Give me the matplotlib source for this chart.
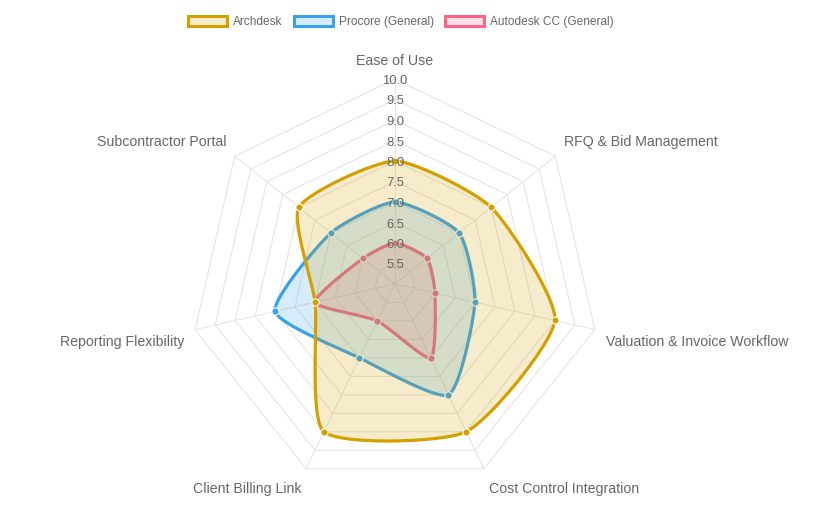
import numpy as np
import matplotlib
matplotlib.use('Agg')
import matplotlib.pyplot as plt
from matplotlib.patches import Patch

plt.rcParams['font.family'] = ['Liberation Sans', 'DejaVu Sans']

categories = ['Ease of Use', 'RFQ & Bid Management', 'Valuation & Invoice Workflow',
              'Cost Control Integration', 'Client Billing Link', 'Reporting Flexibility',
              'Subcontractor Portal']
archdesk = [8.0, 8.0, 9.0, 9.0, 9.0, 7.0, 8.0]
procore = [7.0, 7.0, 7.0, 8.0, 7.0, 8.0, 7.0]
autodesk = [6.0, 6.0, 6.0, 7.0, 6.0, 7.0, 6.0]
series_names = ['Archdesk', 'Procore (General)', 'Autodesk CC (General)']
ticks = [5.5, 6.0, 6.5, 7.0, 7.5, 8.0, 8.5, 9.0, 9.5, 10.0]

colors = ['#d4a000', '#36a2eb', '#ff6384']
fills = [(212/255, 160/255, 0, 0.2), (54/255, 162/255, 235/255, 0.2), (1, 99/255, 132/255, 0.2)]

rmin, rmax = 5.0, 10.0
W, H = 831, 511
cx, cy, px = 395, 284, 41.0   # centre in pixels, pixels per unit
tension = 0.2

n = len(categories)
angles = np.arange(n) * 2 * np.pi / n


def to_xy(vals):
    r = np.asarray(vals) - rmin
    return r * np.sin(angles), r * np.cos(angles)


def spline(xs, ys, t=tension, steps=30):
    pts = np.column_stack([xs, ys])
    m = len(pts)
    cp_prev, cp_next = [], []
    for i in range(m):
        p0, p1, p2 = pts[i - 1], pts[i], pts[(i + 1) % m]
        d01 = np.hypot(*(p1 - p0))
        d12 = np.hypot(*(p2 - p1))
        s01 = d01 / (d01 + d12)
        s12 = d12 / (d01 + d12)
        cp_prev.append(p1 - t * s01 * (p2 - p0))
        cp_next.append(p1 + t * s12 * (p2 - p0))
    out = []
    u = np.linspace(0, 1, steps, endpoint=False)[:, None]
    for i in range(m):
        a, b, c, d = pts[i], cp_next[i], cp_prev[(i + 1) % m], pts[(i + 1) % m]
        out.append((1 - u) ** 3 * a + 3 * (1 - u) ** 2 * u * b + 3 * (1 - u) * u ** 2 * c + u ** 3 * d)
    out = np.vstack(out + [pts[:1]])
    return out[:, 0], out[:, 1]


fig = plt.figure(figsize=(W / 100, H / 100), dpi=100)
ax = fig.add_axes([0, 0, 1, 1])
ax.set_xlim(-cx / px, (W - cx) / px)
ax.set_ylim(-(H - cy) / px, cy / px)
ax.axis('off')

grid_c = '#e4e4e4'
# grid rings
for tv in ticks:
    gx, gy = to_xy([tv] * n)
    ax.plot(np.append(gx, gx[0]), np.append(gy, gy[0]), color=grid_c, lw=0.75, zorder=1)
# angle lines
ox, oy = to_xy([rmax] * n)
for x, y in zip(ox, oy):
    ax.plot([0, x], [0, y], color=grid_c, lw=0.75, zorder=1)

# datasets (first one drawn on top)
data = [archdesk, procore, autodesk]
for k in range(len(data) - 1, -1, -1):
    xs, ys = to_xy(data[k])
    sx, sy = spline(xs, ys)
    z = 10 + (len(data) - k) * 3
    ax.fill(sx, sy, color=fills[k], lw=0, zorder=z)
    ax.plot(sx, sy, color=colors[k], lw=2.3, zorder=z + 1, solid_joinstyle='round')
    ax.plot(xs, ys, 'o', ms=5.2, mfc=colors[k], mec='white', mew=0.8, zorder=z + 2)

# tick labels
shift = 2 / px
for tv in ticks:
    ax.text(0, tv - rmin - shift, f'{tv:.1f}', ha='center', va='center', fontsize=9.4,
            color='#666666', zorder=30)

# point labels
for ang, lab in zip(angles, categories):
    deg = np.degrees(ang)
    if np.isclose(deg, 0) or np.isclose(deg, 180):
        ha = 'center'
    elif deg < 180:
        ha = 'left'
    else:
        ha = 'right'
    if np.isclose(deg, 90) or np.isclose(deg, 270):
        va = 'center'
    elif deg < 90 or deg > 270:
        va = 'bottom'
    else:
        va = 'top'
    r = rmax - rmin + 11 / px
    dy = 0 if va == 'bottom' else -3 / px
    x, y = r * np.sin(ang), r * np.cos(ang) + dy
    ax.text(x, y, lab, ha=ha, va=va, fontsize=10.2, color='#666666')

handles = [Patch(facecolor=fills[i], edgecolor=colors[i], lw=2.2) for i in range(3)]
fig.legend(handles, series_names, loc='center', bbox_to_anchor=(401 / W, 1 - 22 / H), ncol=3,
           frameon=False, fontsize=8.6, handlelength=3.3, handleheight=1.0,
           handletextpad=0.5, columnspacing=0.9, labelcolor='#666666')

fig.savefig('out.png', dpi=100)
